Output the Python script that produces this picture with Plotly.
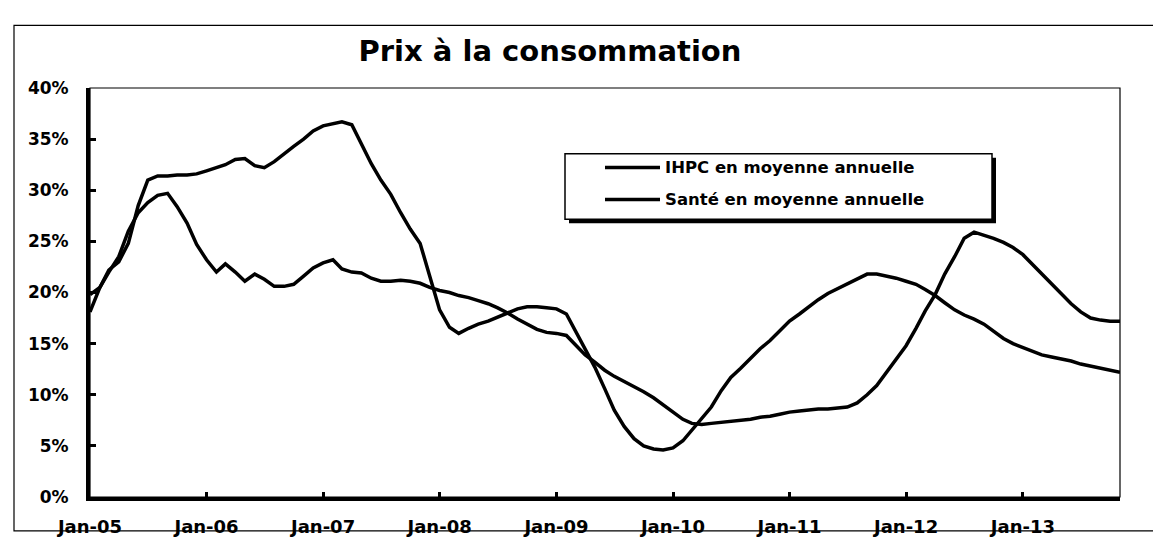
import pandas as pd
import plotly.graph_objects as go

# ---- data, monthly from Jan-2005 to Nov-2013 ----
start_month = "2005-01-01"
ihpc = [18.1, 20.5, 22.2, 23.0, 24.8, 28.5, 31.0, 31.4, 31.4, 31.5, 31.5, 31.6,
        31.9, 32.2, 32.5, 33.0, 33.1, 32.4, 32.2, 32.8, 33.6, 34.3, 35.0, 35.8,
        36.3, 36.5, 36.7, 36.4, 34.6, 32.6, 31.0, 29.6, 27.8, 26.2, 24.8, 21.6,
        18.3, 16.6, 16.0, 16.5, 16.9, 17.2, 17.6, 18.0, 18.4, 18.6, 18.6, 18.5,
        18.4, 17.9, 16.3, 14.4, 12.7, 10.6, 8.5, 6.9, 5.7, 5.0, 4.7, 4.6,
        4.8, 5.5, 6.5, 7.6, 8.8, 10.4, 11.7, 12.6, 13.6, 14.5, 15.3, 16.2,
        17.2, 17.9, 18.6, 19.3, 19.9, 20.4, 20.8, 21.3, 21.8, 21.8, 21.6, 21.4,
        21.1, 20.8, 20.3, 19.7, 19.0, 18.3, 17.8, 17.4, 16.9, 16.2, 15.5, 15.0,
        14.6, 14.2, 13.9, 13.7, 13.5, 13.3, 13.0, 12.8, 12.6, 12.4, 12.2]
sante = [19.8, 20.5, 22.0, 23.5, 26.0, 27.8, 28.8, 29.5, 29.7, 28.4, 26.8, 24.7,
         23.2, 22.0, 22.8, 22.0, 21.1, 21.8, 21.3, 20.6, 20.6, 20.8, 21.6, 22.4,
         22.9, 23.2, 22.3, 22.0, 21.9, 21.4, 21.1, 21.1, 21.2, 21.1, 20.9, 20.5,
         20.2, 20.0, 19.7, 19.5, 19.2, 18.9, 18.5, 18.0, 17.4, 16.9, 16.4, 16.1,
         16.0, 15.8, 14.9, 13.9, 13.2, 12.4, 11.8, 11.3, 10.8, 10.3, 9.7, 9.0,
         8.3, 7.6, 7.2, 7.1, 7.2, 7.3, 7.4, 7.5, 7.6, 7.8, 7.9, 8.1,
         8.3, 8.4, 8.5, 8.6, 8.6, 8.7, 8.8, 9.2, 10.0, 10.9, 12.2, 13.4,
         14.8, 16.5, 18.2, 19.8, 21.8, 23.5, 25.3, 25.9, 25.6, 25.3, 24.9, 24.4,
         23.7, 22.7, 21.8, 20.8, 19.8, 18.9, 18.1, 17.5, 17.3, 17.2, 17.2]
series_names = ["IHPC en moyenne annuelle", "Santé en moyenne annuelle"]
tick_dates = ["2005-01-01", "2006-01-01", "2007-01-01", "2008-01-01", "2009-01-01",
              "2010-01-01", "2011-01-01", "2012-01-01", "2013-01-01"]
tick_labels = ["Jan-05", "Jan-06", "Jan-07", "Jan-08", "Jan-09",
               "Jan-10", "Jan-11", "Jan-12", "Jan-13"]
title_text = "Prix à la consommation"

months = pd.date_range(start_month, periods=len(ihpc), freq="MS")

# ---- layout geometry (pixels, in window coordinates) ----
OFF = 8                      # page body margin
WIDTH, HEIGHT = 1161 - OFF, 549 - OFF
L, R, T, B = 90, 1120, 88, 499
PW, PH = R - L, B - T


def px(x):
    return (x - L) / PW


def py(y):
    return (B - y) / PH


FONT = "DejaVu Sans"

fig = go.Figure()
for name, vals in zip(series_names, [ihpc, sante]):
    fig.add_trace(go.Scatter(x=months, y=vals, mode="lines", name=name,
                             line=dict(color="black", width=3.5),
                             showlegend=False))

shapes = [
    # outer chart border
    dict(type="rect", xref="paper", yref="paper", x0=px(14), x1=px(1178),
         y0=py(533), y1=py(25), line=dict(color="black", width=1.2), layer="below"),
    # plot area border
    dict(type="rect", xref="paper", yref="paper", x0=0, x1=1, y0=0, y1=1,
         line=dict(color="black", width=1.2), layer="below"),
    # legend shadow
    dict(type="rect", xref="paper", yref="paper", x0=px(569), x1=px(996),
         y0=py(224), y1=py(158), fillcolor="black", line=dict(width=0)),
    # legend box
    dict(type="rect", xref="paper", yref="paper", x0=px(565), x1=px(992),
         y0=py(220), y1=py(154), fillcolor="white",
         line=dict(color="black", width=1.5)),
    # legend samples
    dict(type="line", xref="paper", yref="paper", x0=px(605), x1=px(660),
         y0=py(168), y1=py(168), line=dict(color="black", width=3.5)),
    dict(type="line", xref="paper", yref="paper", x0=px(605), x1=px(660),
         y0=py(200), y1=py(200), line=dict(color="black", width=3.5)),
]

annotations = [
    dict(xref="paper", yref="paper", x=px(663), y=py(168), xanchor="left",
         yanchor="middle", showarrow=False, text=series_names[0],
         font=dict(family=FONT, size=16.5, color="black", weight="bold")),
    dict(xref="paper", yref="paper", x=px(663), y=py(200), xanchor="left",
         yanchor="middle", showarrow=False, text=series_names[1],
         font=dict(family=FONT, size=16.5, color="black", weight="bold")),
]

fig.update_layout(
    width=WIDTH, height=HEIGHT,
    margin=dict(l=L - OFF, r=WIDTH - (R - OFF), t=T - OFF,
                b=HEIGHT - (B - OFF), pad=0),
    paper_bgcolor="white", plot_bgcolor="white",
    title=dict(text=title_text, x=(550 - OFF) / WIDTH, xanchor="center",
               y=1 - (51 - OFF) / HEIGHT, yanchor="middle", yref="container",
               font=dict(family=FONT, size=29, color="black", weight="bold")),
    shapes=shapes, annotations=annotations,
    showlegend=False,
)

fig.update_xaxes(
    type="date", range=[months[0], months[-1]],
    tickvals=tick_dates, ticktext=tick_labels,
    showgrid=False, zeroline=False,
    showline=True, linecolor="black", linewidth=4,
    ticks="inside", ticklen=5, tickwidth=3, tickcolor="black",
    ticklabelstandoff=10,
    tickfont=dict(family=FONT, size=18, color="black", weight="bold"),
)
fig.update_yaxes(
    range=[0, 40], dtick=5, tick0=0, ticksuffix="%",
    showgrid=False, zeroline=False,
    showline=True, linecolor="black", linewidth=4,
    ticks="inside", ticklen=6, tickwidth=3, tickcolor="black",
    ticklabelstandoff=14,
    tickfont=dict(family=FONT, size=17, color="black", weight="bold"),
)

fig.write_html("out.html")
